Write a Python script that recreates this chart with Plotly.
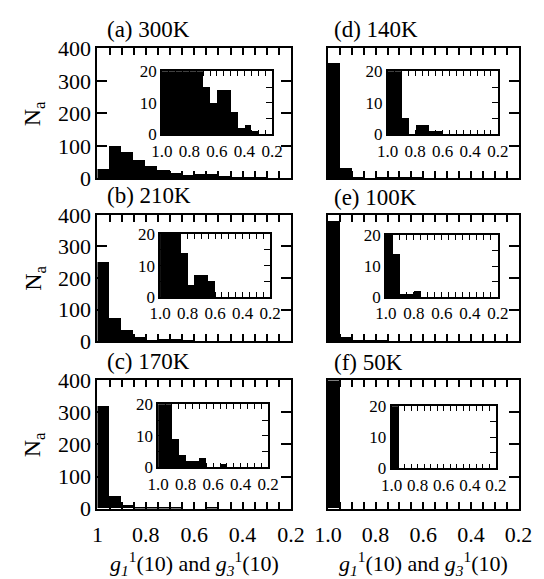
import plotly.graph_objects as go

W, H = 544, 579

# ---- data -------------------------------------------------------------
bin_start = 1.0          # histogram of g values, bins of 0.05 from 1.0 down to 0.2
bin_width = 0.05
counts_a = [28, 100, 80, 55, 38, 25, 15, 10, 14, 14, 7, 2, 3, 1, 0, 0]   # 300K
counts_b = [250, 75, 35, 14, 4, 7, 7, 5, 0, 0, 0, 0, 0, 0, 0, 0]         # 210K
counts_c = [320, 38, 9, 4, 2, 2, 3, 0, 0, 1, 0, 0, 0, 0, 0, 0]           # 170K
counts_d = [355, 30, 5, 0, 3, 3, 1, 1, 0, 0, 0, 0, 0, 0, 0, 0]           # 140K
counts_e = [380, 14, 1, 1, 2, 0, 0, 0, 0, 0, 0, 0, 0, 0, 0, 0]           # 100K
counts_f = [400, 0, 0, 0, 0, 0, 0, 0, 0, 0, 0, 0, 0, 0, 0, 0]            # 50K

panel_labels = ["(a) 300K", "(b) 210K", "(c) 170K", "(d) 140K", "(e) 100K", "(f) 50K"]
main_xticks = [1.0, 0.8, 0.6, 0.4, 0.2]
left_xticktext = ["1", "0.8", "0.6", "0.4", "0.2"]
right_xticktext = ["1.0", "0.8", "0.6", "0.4", "0.2"]
main_yticks = [0, 100, 200, 300, 400]
inset_yticks = [0, 10, 20]
x_title = "<i>g<sub>1</sub></i><sup>1</sup>(10) and <i>g<sub>3</sub></i><sup>1</sup>(10)"
y_title = "N<sub>a</sub>"

all_counts = [counts_a, counts_b, counts_c, counts_d, counts_e, counts_f]

# ---- layout geometry (pixels) ----------------------------------------
rows = [(38, 174), (212, 344), (385, 519)]
cols = [(88, 292), (331, 532)]
insets = [
    (156, 272, 62, 128), (154, 270, 232, 298), (152, 268, 410, 476),
    (394, 510, 62, 128), (392, 510, 233, 298), (398, 508, 412, 477),
]
label_pos = [(96, 18), (96, 192), (96, 365), (335, 18), (335, 194), (335, 366)]

FONT = "'Liberation Serif', 'Times New Roman', 'DejaVu Serif', serif"

def xd(a, b):
    return [a / W, b / W]

def yd(top, bot):
    return [1 - bot / H, 1 - top / H]

centers = [bin_start - bin_width * (i + 0.5) for i in range(len(counts_a))]

fig = go.Figure()
layout = dict(width=W, height=H, margin=dict(l=0, r=0, t=0, b=0),
              paper_bgcolor="white", plot_bgcolor="rgba(0,0,0,0)",
              showlegend=False, bargap=0,
              font=dict(family=FONT, color="black", size=21))
annotations = []

for p in range(6):
    col = p // 3
    row = p % 3
    counts = all_counts[p]
    k_main = 2 * p + 1
    k_ins = 2 * p + 2
    for k in (k_main, k_ins):
        fig.add_trace(go.Bar(x=centers, y=counts, width=bin_width,
                             marker=dict(color="black", line=dict(width=0)),
                             xaxis=f"x{k}", yaxis=f"y{k}", hoverinfo="skip"))
    (x0, x1) = cols[col]
    (t, b) = rows[row]
    bottom_row = row == 2
    layout[f"xaxis{k_main}"] = dict(
        domain=xd(x0, x1), range=[1.0, 0.2], anchor=f"y{k_main}",
        showline=True, linecolor="black", linewidth=2, mirror="ticks",
        ticks="inside", ticklen=7, tickwidth=1.5, tickcolor="black",
        tickvals=main_xticks,
        ticktext=(left_xticktext if col == 0 else right_xticktext),
        showticklabels=bottom_row, ticklabelstandoff=5,
        tickfont=dict(family=FONT, size=22),
        minor=dict(dtick=0.05, tick0=0.2, ticks="inside", ticklen=7,
                   tickwidth=1.5, tickcolor="black", showgrid=False),
        showgrid=False, zeroline=False, fixedrange=True)
    layout[f"yaxis{k_main}"] = dict(
        domain=yd(t, b), range=[0, 400], anchor=f"x{k_main}",
        showline=True, linecolor="black", linewidth=2, mirror="ticks",
        ticks="inside", ticklen=10, tickwidth=1.5, tickcolor="black",
        tickvals=main_yticks, showticklabels=(col == 0),
        tickfont=dict(family=FONT, size=22), ticklabelstandoff=0,
        showgrid=False, zeroline=False, fixedrange=True)
    ix0, ix1, it, ib = insets[p]
    layout[f"xaxis{k_ins}"] = dict(
        domain=xd(ix0, ix1), range=[1.0, 0.2], anchor=f"y{k_ins}",
        showline=True, linecolor="black", linewidth=1.5, mirror="ticks",
        ticks="inside", ticklen=5, tickwidth=1.2, tickcolor="black",
        tickvals=main_xticks, ticktext=right_xticktext,
        tickfont=dict(family=FONT, size=17), ticklabelstandoff=0,
        minor=dict(dtick=0.05, tick0=0.2, ticks="inside", ticklen=5,
                   tickwidth=1.2, tickcolor="black", showgrid=False),
        showgrid=False, zeroline=False, fixedrange=True)
    layout[f"yaxis{k_ins}"] = dict(
        domain=yd(it, ib), range=[0, 20], anchor=f"x{k_ins}",
        showline=True, linecolor="black", linewidth=1.5, mirror="ticks",
        ticks="inside", ticklen=6, tickwidth=1.2, tickcolor="black",
        tickvals=inset_yticks, tickfont=dict(family=FONT, size=17),
        ticklabelstandoff=0,
        minor=dict(dtick=5, ticks="inside", ticklen=6, tickwidth=1.2,
                   tickcolor="black", showgrid=False),
        showgrid=False, zeroline=False, fixedrange=True)

    lx, ly = label_pos[p]
    annotations.append(dict(text=panel_labels[p], x=lx / W, y=1 - ly / H,
                            xref="paper", yref="paper", xanchor="left",
                            yanchor="middle", showarrow=False,
                            font=dict(family=FONT, size=23)))
    if col == 0:
        annotations.append(dict(text=y_title, x=22 / W, y=1 - (t + b) / 2 / H,
                                xref="paper", yref="paper", textangle=-90,
                                xanchor="center", yanchor="middle",
                                showarrow=False, font=dict(family=FONT, size=24)))
    if bottom_row:
        annotations.append(dict(text=x_title, x=(x0 + x1) / 2 / W, y=1 - 576 / H,
                                xref="paper", yref="paper", xanchor="center",
                                yanchor="middle", showarrow=False,
                                font=dict(family=FONT, size=22)))

layout["annotations"] = annotations
fig.update_layout(**layout)
fig.write_html("out.html")
